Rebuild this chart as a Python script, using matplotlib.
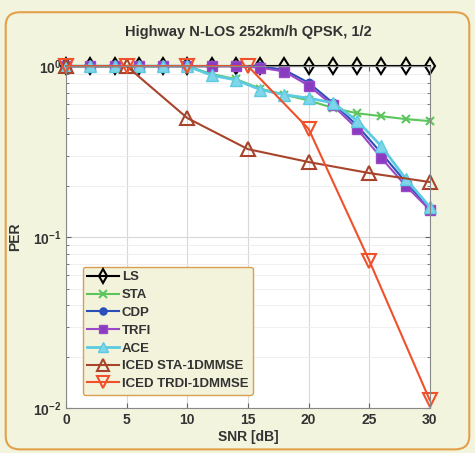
#!/usr/bin/env python3
import numpy as np
import matplotlib
matplotlib.use("Agg")
import matplotlib.pyplot as plt
from matplotlib.patches import FancyBboxPatch

plt.rcParams['font.family'] = ['Liberation Sans', 'DejaVu Sans']

snr_2 = [0, 2, 4, 6, 8, 10, 12, 14, 16, 18, 20, 22, 24, 26, 28, 30]
snr_5 = [0, 5, 10, 15, 20, 25, 30]

per_ls = [1, 1, 1, 1, 1, 1, 1, 1, 1, 1, 1, 1, 1, 1, 1, 1]
per_sta = [1, 1, 1, 1, 1, 1, 0.9, 0.84, 0.74, 0.68, 0.63, 0.57, 0.53, 0.51, 0.49, 0.477]
per_cdp = [1, 1, 1, 1, 1, 1, 1, 1, 1, 0.95, 0.8, 0.61, 0.45, 0.31, 0.21, 0.147]
per_trfi = [1, 1, 1, 1, 1, 1, 1, 1, 0.98, 0.93, 0.77, 0.59, 0.43, 0.29, 0.2, 0.144]
per_ace = [1, 1, 1, 1, 1, 1, 0.885, 0.83, 0.73, 0.68, 0.65, 0.61, 0.48, 0.34, 0.22, 0.15]
per_iced_sta = [1, 1, 0.497, 0.327, 0.275, 0.237, 0.21]
per_iced_trdi = [1, 1, 1, 1, 0.43, 0.073, 0.0111]

labels = ['LS', 'STA', 'CDP', 'TRFI', 'ACE', 'ICED STA-1DMMSE', 'ICED TRDI-1DMMSE']

bg = '#f3f4de'
fig = plt.figure(figsize=(4.75, 4.53), dpi=100, facecolor=bg)
fig.patches.append(FancyBboxPatch((0.012, 0.008), 0.976, 0.965,
                                  boxstyle="round,pad=0,rounding_size=0.03",
                                  transform=fig.transFigure, facecolor=bg,
                                  edgecolor='#e2a04a', linewidth=1.5, zorder=-10))

ax = fig.add_axes([0.139, 0.099, 0.766, 0.755])
ax.set_facecolor('white')

kw = dict(clip_on=False, lw=1.5)
ax.semilogy(snr_2, per_ls, '-d', color='black', mfc='none', mew=1.5, ms=8, label=labels[0], **kw)
ax.semilogy(snr_2, per_sta, '-x', color='#5cc65c', mew=1.5, ms=6, label=labels[1], **kw)
ax.semilogy(snr_2, per_cdp, '-o', color='#2a4fb8', mfc='#2a4fb8', ms=6, label=labels[2], **kw)
ax.semilogy(snr_2, per_trfi, '-s', color='#9a48c8', mfc='#8a3cc0', ms=7, label=labels[3], **kw)
ax.semilogy(snr_2, per_ace, '-^', color='#5ccae0', mfc='#7fd6ea', ms=8, label=labels[4],
            clip_on=False, lw=2)
ax.semilogy(snr_5, per_iced_sta, '-^', color='#a8442c', mfc='none', mew=1.5, ms=10, label=labels[5], **kw)
ax.semilogy(snr_5, per_iced_trdi, '-v', color='#f0502a', mfc='none', mew=1.5, ms=10, label=labels[6], **kw)

ax.set_xlim(0, 30)
ax.set_ylim(0.01, 1)
ax.set_xticks([0, 5, 10, 15, 20, 25, 30])
ax.grid(True, which='major', color='#d8d8d8', lw=0.8)
ax.grid(True, which='minor', axis='y', color='#ececec', lw=0.6)
ax.tick_params(which='both', direction='in', colors='#666666', labelsize=10,
               top=True, right=True)
for t in ax.get_xticklabels() + ax.get_yticklabels():
    t.set_fontweight('bold')
    t.set_color('#333333')
for s in ax.spines.values():
    s.set_color('#888888')

ax.set_title('Highway N-LOS 252km/h QPSK, 1/2', fontsize=10.5, fontweight='bold',
             color='#333333', pad=22)
ax.set_xlabel('SNR [dB]', fontsize=10, fontweight='bold', color='#333333', labelpad=2)
ax.set_ylabel('PER', fontsize=10, fontweight='bold', color='#333333', labelpad=8)

leg = ax.legend(loc='lower left', bbox_to_anchor=(0.028, 0.02), fontsize=9.5,
                fancybox=True, framealpha=1, facecolor='#f3f3dc', edgecolor='#d8a050',
                handlelength=2.4, labelspacing=0.42, borderpad=0.35, handletextpad=0.2,
                markerscale=0.85)
for t in leg.get_texts():
    t.set_fontweight('bold')
    t.set_color('#333333')

fig.savefig('out.png', dpi=100, facecolor=bg)
